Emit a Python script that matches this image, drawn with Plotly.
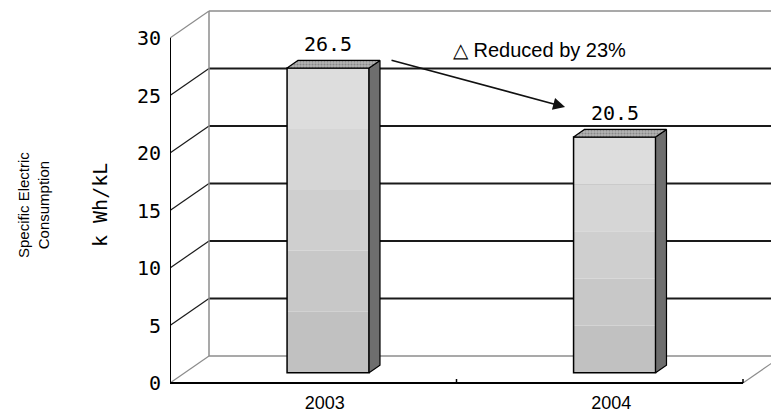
import plotly.graph_objects as go

# ---------------- data ----------------
years = ["2003", "2004"]
values = [26.5, 20.5]
value_labels = ["26.5", "20.5"]
y_ticks = [0, 5, 10, 15, 20, 25, 30]
y_tick_labels = ["0", "5", "10", "15", "20", "25", "30"]
note_text = "△ Reduced by 23%"
unit_title = "k Wh/kL"
measure_title = "Specific Electric<br>Consumption"

# ---------------- geometry / style ----------------
W, H = 771, 414
ML, MB = 170, 24
PB = H - MB
FRONT_L_PX, FRONT_R_PX = 170, 743
PX_PER_CAT = (FRONT_R_PX - FRONT_L_PX) / 2
Y0_PX, YTOP_PX = 383, 38
PX_PER_UNIT = (Y0_PX - YTOP_PX) / 30.0

x_range = [-0.5 + (ML - FRONT_L_PX) / PX_PER_CAT, -0.5 + (W - FRONT_L_PX) / PX_PER_CAT]
y_range = [(Y0_PX - PB) / PX_PER_UNIT, Y0_PX / PX_PER_UNIT]

DX = 39 / PX_PER_CAT      # depth offset (x units)
DY = 27 / PX_PER_UNIT     # depth offset (y units)
T0 = 0.38                 # bar front depth fraction
TD = 0.28                 # bar depth fraction
BAR_W = 82 / PX_PER_CAT

MONO = "DejaVu Sans Mono"
SANS = "Liberation Sans, Arial, sans-serif"
GRAY = "#8c8c8c"
DARK = "#1a1a1a"

xc = list(range(len(years)))
x_left, x_right = -0.5, len(years) - 0.5
ymax = y_ticks[-1]

fig = go.Figure()
shapes = []

# back wall: horizontal grid lines, left wall diagonals
for v in y_ticks:
    edge = v in (y_ticks[0], y_ticks[-1])
    col = GRAY if edge else DARK
    shapes.append(dict(type="line", xref="x", yref="y", layer="below",
                       x0=x_left + DX, y0=v + DY, x1=x_right + DX, y1=v + DY,
                       line=dict(color=col, width=2 if not edge else 1.5)))
    shapes.append(dict(type="line", xref="x", yref="y", layer="below",
                       x0=x_left, y0=v, x1=x_left + DX, y1=v + DY,
                       line=dict(color=col, width=1.2)))
# back-left vertical edge
shapes.append(dict(type="line", xref="x", yref="y", layer="below",
                   x0=x_left + DX, y0=DY, x1=x_left + DX, y1=ymax + DY,
                   line=dict(color=GRAY, width=1.5)))
# floor right diagonal
shapes.append(dict(type="line", xref="x", yref="y", layer="below",
                   x0=x_right, y0=0, x1=x_right + DX, y1=DY,
                   line=dict(color=GRAY, width=1.2)))

# ---------------- bars: front faces (banded gradient) ----------------
bar_x = [c + T0 * DX for c in xc]
base0 = T0 * DY
band_colors = ["#c1c1c1", "#c8c8c8", "#cfcfcf", "#d6d6d6", "#dddddd"]
nb = len(band_colors)
for k, col in enumerate(band_colors):
    fig.add_trace(go.Bar(
        x=bar_x, y=[v / nb for v in values], base=[base0 + v * k / nb for v in values],
        width=BAR_W, marker=dict(color=col, line=dict(width=0)),
        hoverinfo="skip", showlegend=False))
fig.add_trace(go.Bar(
    x=bar_x, y=values, base=[base0] * len(values), width=BAR_W,
    marker=dict(color="rgba(0,0,0,0)", line=dict(color="#000000", width=1.5)),
    hoverinfo="skip", showlegend=False))

# side faces and top faces
sx, sy, tx, ty = [], [], [], []
for bx, v in zip(bar_x, values):
    xl, xr = bx - BAR_W / 2, bx + BAR_W / 2
    top = base0 + v
    sx += [xr, xr, xr + TD * DX, xr + TD * DX, xr, None]
    sy += [base0, top, top + TD * DY, base0 + TD * DY, base0, None]
    tx += [xl, xr, xr + TD * DX, xl + TD * DX, xl, None]
    ty += [top, top, top + TD * DY, top + TD * DY, top, None]
fig.add_trace(go.Scatter(x=sx, y=sy, mode="lines", fill="toself", fillcolor="#6e6e6e",
                         line=dict(color="#000000", width=1.2), hoverinfo="skip", showlegend=False))
fig.add_trace(go.Scatter(x=tx, y=ty, mode="lines", fill="toself", fillcolor="#9e9e9e",
                         fillpattern=dict(shape=".", fgcolor="#5a5a5a", bgcolor="#b4b4b4", size=3, solidity=0.4),
                         line=dict(color="#000000", width=1.2), hoverinfo="skip", showlegend=False))

# front axis lines
fig.add_trace(go.Scatter(x=[x_left, x_left, None, x_left, x_right],
                         y=[ymax, 0, None, 0, 0], mode="lines",
                         line=dict(color="#000000", width=2), hoverinfo="skip", showlegend=False))
# category separator ticks on floor
tick_h = 4 / PX_PER_UNIT
tkx, tky = [], []
for c in xc:
    tkx += [c + 0.5, c + 0.5, None]
    tky += [0, tick_h, None]
fig.add_trace(go.Scatter(x=tkx, y=tky, mode="lines", line=dict(color="#000000", width=1.5),
                         hoverinfo="skip", showlegend=False))

annotations = []
# value labels
for bx, v, lab in zip(bar_x, values, value_labels):
    annotations.append(dict(x=bx, y=base0 + v + TD * DY, xref="x", yref="y",
                            text=lab, showarrow=False, yanchor="bottom", yshift=2,
                            font=dict(family=MONO, size=20, color="#000000")))
# reduction arrow
annotations.append(dict(x=0.879, y=24.0, ax=0.268, ay=28.1, xref="x", yref="y",
                        axref="x", ayref="y", text="", showarrow=True, arrowhead=2,
                        arrowsize=1.5, arrowwidth=1.6, arrowcolor="#111111", standoff=0))
annotations.append(dict(x=0.481, y=28.96, xref="x", yref="y", xanchor="left", yanchor="middle",
                        text=note_text, showarrow=False,
                        font=dict(family=SANS, size=20, color="#000000")))
# axis titles
yc = (Y0_PX - 205) / PX_PER_UNIT
annotations.append(dict(x=(100 - ML) / (W - ML), y=yc, xref="paper", yref="y", text=unit_title,
                        textangle=-90, showarrow=False, xanchor="center", yanchor="middle",
                        font=dict(family=MONO, size=20, color="#000000")))
annotations.append(dict(x=(33 - ML) / (W - ML), y=yc, xref="paper", yref="y", text=measure_title,
                        textangle=-90, showarrow=False, xanchor="center", yanchor="middle",
                        font=dict(family=SANS, size=15, color="#000000")))

fig.update_layout(
    width=W, height=H, margin=dict(l=ML, r=0, t=0, b=MB),
    paper_bgcolor="white", plot_bgcolor="white",
    barmode="overlay", showlegend=False,
    shapes=shapes, annotations=annotations,
    xaxis=dict(range=x_range, showgrid=False, zeroline=False, showline=False,
               tickvals=[c + 0.04 for c in xc], ticktext=years, ticks="", automargin=False,
               tickfont=dict(family=SANS, size=18, color="#000000"), fixedrange=True),
    yaxis=dict(range=y_range, showgrid=False, zeroline=False, showline=False,
               tickvals=y_ticks, ticktext=y_tick_labels, ticks="outside", ticklen=4,
               tickcolor="rgba(0,0,0,0)", automargin=False,
               tickfont=dict(family=MONO, size=20, color="#000000"), fixedrange=True),
)

fig.write_html("out.html", config={"displayModeBar": False},
               post_script="document.body.style.margin='0';")
